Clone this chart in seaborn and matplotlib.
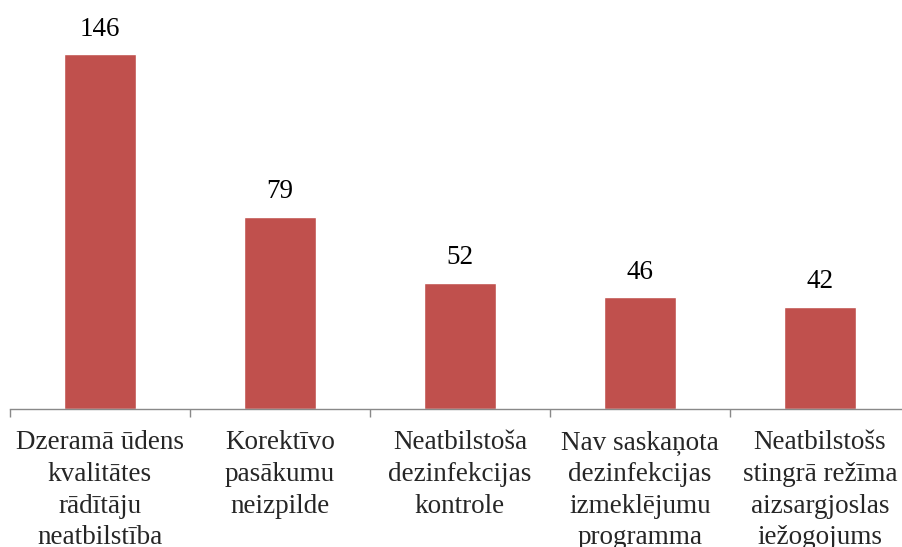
import matplotlib
matplotlib.use('Agg')
import matplotlib.pyplot as plt
import seaborn as sns
import pandas as pd

# data
categories = [
    "Dzeramā ūdens\nkvalitātes\nrādītāju\nneatbilstība",
    "Korektīvo\npasākumu\nneizpilde",
    "Neatbilstoša\ndezinfekcijas\nkontrole",
    "Nav saskaņota\ndezinfekcijas\nizmeklējumu\nprogramma",
    "Neatbilstošs\nstingrā režīma\naizsargjoslas\niežogojums",
]
values = [146, 79, 52, 46, 42]

df = pd.DataFrame({"cat": categories, "val": values})

sns.set_style("white")
plt.rcParams['font.family'] = ['Liberation Serif', 'DejaVu Serif']

fig = plt.figure(figsize=(9.02, 5.47), dpi=100)
ax = fig.add_axes([10 / 902, 138 / 547, 900 / 902, 389 / 547])

sns.barplot(data=df, x="cat", y="val", color="#C0504D", width=0.4,
            saturation=1, ax=ax)

ax.set_xlim(-0.5, 4.5)
ax.set_ylim(0, 160)

for i, v in enumerate(values):
    ax.annotate(str(v), (i, v), xytext=(0, 9), textcoords="offset points",
                ha="center", va="bottom", fontsize=19.5, color="black")

for s in ["top", "right", "left"]:
    ax.spines[s].set_visible(False)
ax.spines["bottom"].set_color("#898989")
ax.spines["bottom"].set_linewidth(1.0)

ax.set_yticks([])
ax.set_xticks([-0.5, 0.5, 1.5, 2.5, 3.5])
ax.set_xticklabels([])
ax.tick_params(axis="x", which="major", length=6, color="#898989", width=1.0, bottom=True)
ax.set_xticks(range(len(categories)), minor=True)
ax.set_xticklabels(categories, minor=True, fontsize=19.5, linespacing=1.36)
ax.tick_params(axis="x", which="minor", length=0, pad=15)

ax.set_xlabel("")
ax.set_ylabel("")

fig.savefig("out.png", dpi=100)
